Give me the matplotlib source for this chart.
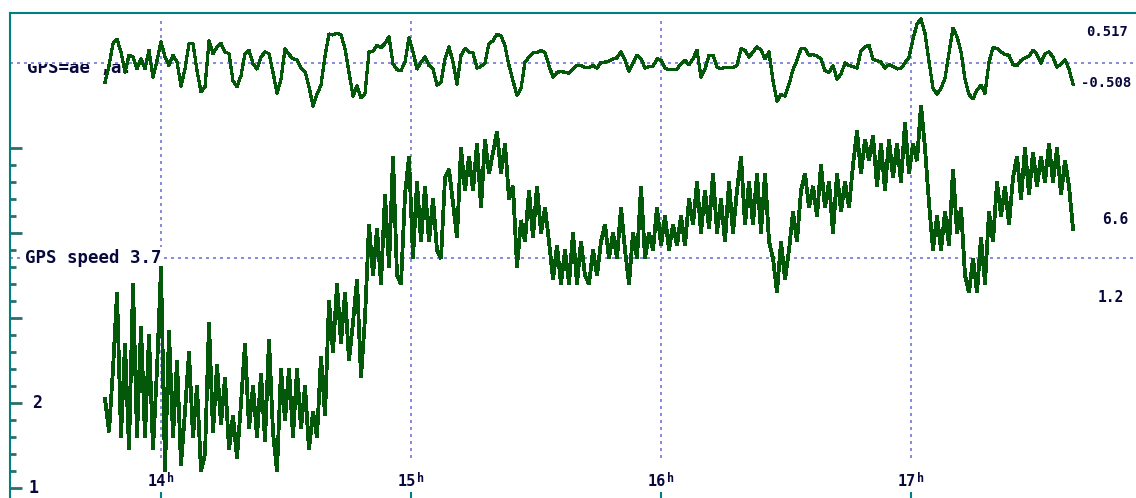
import numpy as np
import matplotlib
matplotlib.use("Agg")
import matplotlib.pyplot as plt
from matplotlib import transforms
from matplotlib.patches import Rectangle

# GPS log: speed and the accel trace, one sample every 0.016 h
start_hour = 13.776
step_hour = 0.016

speed_a = [2.05, 1.66, 2.4, 3.3, 1.6, 2.7, 1.45, 3.4, 1.6, 2.9,
           1.6, 2.8, 1.45, 2.4, 3.6, 1.2, 2.85, 1.6, 2.5, 1.27,
           1.9, 2.6, 1.6, 2.2, 1.2, 1.4, 2.95, 1.65, 2.45, 1.75,
           2.3, 1.45, 1.85, 1.35, 2.0, 2.7, 1.7, 2.2, 1.6, 2.35,
           1.55, 2.75, 1.65, 1.2, 2.4, 1.8, 2.4, 1.6, 2.4, 1.7,
           2.2, 1.45, 1.9, 1.6, 2.55, 1.85, 3.2, 2.6, 3.4, 2.7]
speed_b = [3.3, 2.5, 2.95, 3.45, 2.3, 3.0, 4.1, 3.5, 4.05, 3.4,
           4.45, 3.6, 4.9, 3.5, 3.4, 4.45, 4.9, 3.7, 4.6, 3.9,
           4.55, 3.9, 4.4, 3.8, 3.7, 4.65, 4.75, 4.35, 3.95, 5.0,
           4.5, 4.9, 4.5, 5.05, 4.3, 5.1, 4.7, 4.95, 5.19, 4.7,
           5.05, 4.4, 4.55, 3.6, 4.15, 3.9, 4.5, 3.95, 4.55, 4.0,
           4.3, 3.9, 3.45, 3.85, 3.4, 3.8, 3.4, 4.0, 3.4, 3.9, 3.5]
speed_c = [3.4, 3.8, 3.5, 3.9, 4.1, 3.7, 4.0, 3.7, 4.3, 3.8,
           3.4, 4.0, 3.7, 4.55, 3.7, 4.0, 3.8, 4.3, 3.85, 4.2,
           3.8, 4.1, 3.85, 4.2, 3.85, 4.4, 4.1, 4.6, 4.0, 4.5,
           4.05, 4.7, 4.0, 4.4, 3.9, 4.6, 4.0, 4.5, 4.9, 4.1,
           4.6, 4.1, 4.7, 4.0, 4.7, 3.9, 3.7, 3.3, 3.9, 3.45,
           3.8, 4.25, 3.9, 4.5, 4.7, 4.3, 4.55, 4.2, 4.8, 4.3, 4.6]
speed_d = [4.0, 4.7, 4.25, 4.6, 4.3, 4.8, 5.2, 4.7, 5.1, 4.85,
           5.15, 4.55, 5.05, 4.5, 5.1, 4.65, 5.05, 4.6, 5.3, 4.7,
           5.05, 4.85, 5.5, 5.0, 4.35, 3.8, 4.2, 3.8, 4.25, 3.85,
           4.75, 4.0, 4.3, 3.5, 3.3, 3.7, 3.3, 3.95, 3.4, 4.25,
           3.9, 4.6, 4.2, 4.55, 4.1, 4.65, 4.9, 4.4, 5.0, 4.45,
           4.95, 4.55, 4.9, 4.6, 5.05, 4.6, 5.0, 4.45, 4.85, 4.55, 4.05]

accel_a = [-0.23, -0.03, 0.23, 0.28, 0.13, -0.11, 0.09, 0.07, -0.07, 0.05,
           -0.07, 0.15, -0.17, 0.03, 0.25, 0.07, -0.03, 0.09, 0.01, -0.27,
           -0.07, 0.23, 0.23, -0.09, -0.34, -0.28, 0.26, 0.11, 0.19, 0.23,
           0.13, 0.11, -0.21, -0.28, -0.15, 0.11, 0.15, -0.01, -0.07, 0.07,
           0.13, 0.11, -0.11, -0.36, -0.19, 0.17, 0.10, 0.05, 0.04, -0.06,
           -0.10, -0.28, -0.508, -0.37, -0.26, 0.08, 0.34, 0.33, 0.35, 0.33]
accel_b = [0.17, -0.11, -0.39, -0.27, -0.41, -0.36, 0.13, 0.14, 0.21, 0.18,
           0.23, 0.31, -0.01, -0.08, -0.09, 0.01, 0.30, 0.13, -0.07, 0.01,
           0.07, -0.03, -0.07, -0.26, -0.23, 0.05, 0.19, 0.01, -0.25, 0.09,
           0.17, 0.13, 0.12, -0.06, -0.04, 0.00, 0.23, 0.26, 0.34, 0.32,
           0.20, -0.03, -0.21, -0.38, -0.30, 0.01, 0.07, 0.12, 0.12, 0.15,
           0.12, -0.03, -0.17, -0.11, -0.10, -0.11, -0.12, -0.07, -0.03, -0.03, -0.05]
accel_c = [-0.05, -0.03, -0.06, 0.01, 0.01, 0.02, 0.05, 0.06, 0.13, 0.04,
           -0.10, 0.00, 0.09, 0.05, -0.06, -0.04, -0.04, 0.05, 0.03, -0.06,
           -0.08, -0.08, -0.07, -0.01, 0.03, -0.02, 0.05, 0.15, -0.17, -0.07,
           0.09, 0.09, -0.05, -0.07, -0.05, -0.05, -0.05, -0.03, 0.17, 0.15,
           0.07, 0.13, 0.19, 0.15, 0.05, 0.13, -0.21, -0.45, -0.37, -0.39,
           -0.25, -0.08, 0.03, 0.17, 0.17, 0.09, 0.10, 0.08, 0.05, -0.09, -0.11]
accel_d = [-0.03, -0.19, -0.13, 0.00, -0.03, -0.04, -0.06, 0.14, 0.19, 0.21,
           0.04, 0.03, 0.01, -0.06, -0.02, -0.04, -0.07, -0.06, 0.00, 0.07,
           0.28, 0.46, 0.517, 0.35, 0.02, -0.30, -0.37, -0.30, -0.18, 0.12,
           0.41, 0.31, 0.13, -0.19, -0.37, -0.42, -0.32, -0.26, -0.36, 0.01,
           0.18, 0.17, 0.13, 0.10, 0.09, -0.02, -0.03, 0.03, 0.06, 0.08,
           0.15, 0.10, 0.00, 0.11, 0.13, 0.07, -0.05, -0.01, 0.04, -0.07, -0.25]

hour_ticks = [14, 15, 16, 17]
speed_ref = 3.7
speed_side_labels = ["6.6", "1.2"]
accel_label = "GPS=ae ,a:"

speed = np.concatenate([speed_a, speed_b, speed_c, speed_d])
accel = np.concatenate([accel_a, accel_b, accel_c, accel_d])
hours = start_hour + step_hour * np.arange(len(speed))

accel_base = 6.0  # the accel trace sits on its own zero line above the speed

W, H = 1136, 498
GREEN = "#03580a"
GRID = "#8c8cdc"
TEAL = "#008080"
TICK = "#2a6e6e"
INK = "#08083c"
FONT = dict(family="DejaVu Sans Mono", weight="heavy", color=INK)

fig = plt.figure(figsize=(W / 100, H / 100), dpi=100)
ax = fig.add_axes([10 / W, 0, 1 - 10 / W, 485 / H])
ax.set_xlim(13.396, 17.9)
ax.set_ylim(0.8824, 6.588)

for side in ["right", "bottom"]:
    ax.spines[side].set_visible(False)
for side in ["left", "top"]:
    ax.spines[side].set_color(TEAL)
    ax.spines[side].set_linewidth(1.5)

ax.set_yticks([1, 2, 3, 4, 5])
ax.set_yticks(np.arange(1.2, 4.9, 0.2), minor=True)
ax.tick_params(axis="y", which="major", direction="in", length=8.6,
               width=2, color=TICK, labelleft=False)
ax.tick_params(axis="y", which="minor", direction="in", length=4.3,
               width=2, color=TICK)
ax.set_xticks(hour_ticks)
ax.tick_params(axis="x", direction="in", length=4.3, width=1.5,
               color=TEAL, labelbottom=False)

# dotted hour grid and reference lines
dots = (0, (1.2, 1.93))
for h in hour_ticks:
    ax.plot([h, h], [1.353, 6.506], color=GRID, lw=1.5, ls=dots,
            antialiased=False, zorder=1)
ax.axhline(accel_base, color=GRID, lw=1.5, ls=dots, antialiased=False, zorder=1)
ax.axhline(speed_ref, color=GRID, lw=1.5, ls=dots, antialiased=False, zorder=1)

ax.plot(hours, speed, color=GREEN, lw=2.0, solid_joinstyle="miter",
        antialiased=False, zorder=3)
ax.plot(hours, accel_base + accel, color=GREEN, lw=1.6, antialiased=False, zorder=3)

blend = transforms.blended_transform_factory(fig.transFigure, ax.transData)

ax.annotate(f"GPS speed {speed_ref}", xy=(25 / W, speed_ref), xycoords=blend,
            xytext=(0, -3), textcoords="offset points", va="baseline",
            fontsize=12.5, zorder=2,
            bbox=dict(facecolor="white", edgecolor="none", pad=1.5), **FONT)

top = ax.annotate(accel_label, xy=(27 / W, accel_base), xycoords=blend,
                  xytext=(0, -7.2), textcoords="offset points", va="baseline",
                  fontsize=12.5, zorder=2,
                  bbox=dict(facecolor="white", edgecolor="none", pad=1.5), **FONT)
clip = Rectangle((13.0, accel_base - 1.0), 1.5, 0.99, transform=ax.transData)
top.set_clip_path(clip)

# value labels at the right edge
fig.text(1128 / W, 1 - 32 / H, f"{max(accel):.3f}", ha="right", va="center",
         fontsize=10, **FONT)
fig.text(1131 / W, 1 - 83 / H, f"{min(accel):.3f}", ha="right", va="center",
         fontsize=10, **FONT)
fig.text(1128 / W, 1 - 219 / H, speed_side_labels[0], ha="right", va="center",
         fontsize=10.5, **FONT)
fig.text(1124 / W, 1 - 297 / H, speed_side_labels[1], ha="right", va="center",
         fontsize=10.5, **FONT)

# y labels inside the axis
for v, px in [(2, 32), (1, 29)]:
    ax.text(px / W, v, str(v), transform=blend, ha="left", va="center",
            fontsize=12, **FONT)

# hour labels with a raised "h"
hblend = transforms.blended_transform_factory(ax.transData, fig.transFigure)
for h in hour_ticks:
    ax.annotate(str(h), xy=(h, 1 - 481 / H), xycoords=hblend, xytext=(3.6, 0),
                textcoords="offset points", ha="right", va="center",
                fontsize=11, **FONT)
    ax.annotate("h", xy=(h, 1 - 481 / H), xycoords=hblend, xytext=(4.3, 2),
                textcoords="offset points", ha="left", va="center",
                fontsize=8.5, **FONT)

fig.savefig("out.png", dpi=100, facecolor="white")
